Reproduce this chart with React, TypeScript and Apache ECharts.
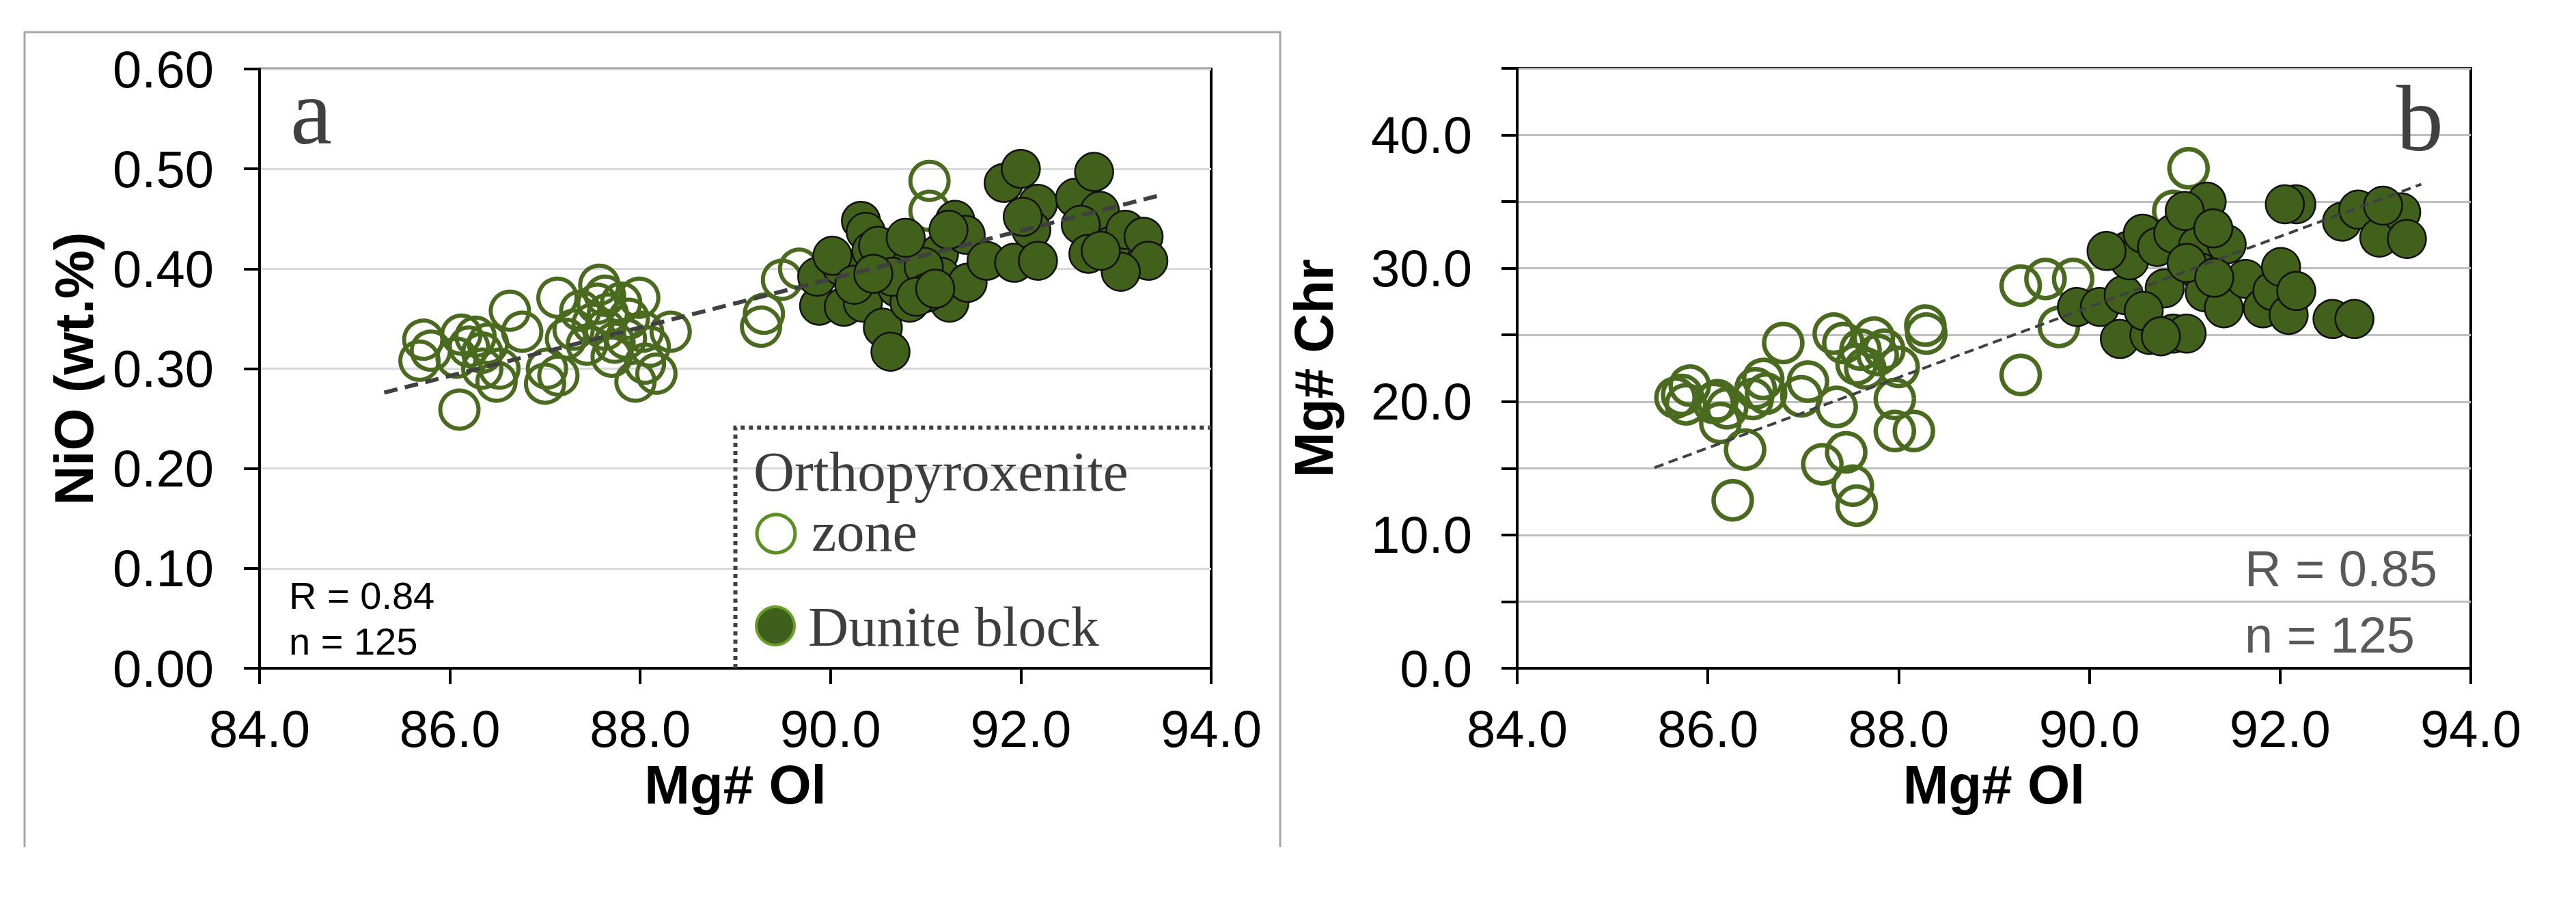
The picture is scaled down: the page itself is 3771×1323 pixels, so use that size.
import React, { useEffect, useRef } from "react";
import * as echarts from "echarts";

// ---------- data ----------
const xTicksMin = 84;
const xTicksMax = 94;

// Panel a: NiO (wt.%) vs Mg# Ol
const aOrthoX = [85.72, 85.68, 85.80, 86.12, 86.07, 86.27, 86.34, 86.49, 86.10, 86.63, 86.76, 87.13, 87.00, 87.14, 87.30, 87.57, 87.63, 87.44, 87.80, 87.99, 87.95, 88.17, 88.32, 88.03, 87.63, 87.73, 87.88, 87.37, 87.66, 89.27, 89.30, 89.49, 89.67, 91.04, 91.04, 86.40, 86.52, 87.22, 87.50, 87.70, 88.05, 87.85, 86.20, 87.55, 88.10, 86.34, 87.02];
const aOrthoY = [0.329, 0.308, 0.318, 0.334, 0.311, 0.332, 0.316, 0.287, 0.259, 0.358, 0.337, 0.371, 0.285, 0.293, 0.339, 0.384, 0.373, 0.324, 0.366, 0.371, 0.287, 0.295, 0.337, 0.337, 0.339, 0.326, 0.350, 0.358, 0.355, 0.342, 0.355, 0.389, 0.400, 0.488, 0.458, 0.325, 0.300, 0.330, 0.345, 0.312, 0.305, 0.330, 0.322, 0.365, 0.322, 0.300, 0.300];
const aDunX = [89.88, 89.86, 90.12, 90.14, 90.32, 90.37, 90.43, 90.34, 90.55, 90.63, 90.70, 90.72, 90.70, 90.83, 91.14, 91.16, 91.31, 91.42, 91.25, 91.44, 91.64, 91.93, 91.82, 92.00, 92.18, 92.11, 92.02, 92.18, 92.57, 92.77, 92.83, 92.63, 92.71, 92.95, 93.10, 93.29, 93.34, 93.05, 92.84, 90.50, 90.65, 90.98, 90.02, 90.25, 91.01, 91.24, 90.79, 90.90, 91.10, 90.45];
const aDunY = [0.363, 0.392, 0.402, 0.362, 0.448, 0.437, 0.418, 0.366, 0.341, 0.317, 0.418, 0.400, 0.381, 0.366, 0.415, 0.392, 0.449, 0.434, 0.366, 0.386, 0.408, 0.406, 0.486, 0.500, 0.465, 0.439, 0.452, 0.408, 0.471, 0.497, 0.458, 0.444, 0.415, 0.423, 0.439, 0.432, 0.408, 0.397, 0.418, 0.423, 0.392, 0.402, 0.413, 0.384, 0.376, 0.439, 0.431, 0.372, 0.380, 0.395];
const aTrendX = [85.31, 93.44];
const aTrendY = [0.276, 0.473];

// Panel b: Mg# Chr vs Mg# Ol
const bOrthoX = [85.73, 85.77, 85.66, 85.81, 86.10, 86.13, 86.06, 86.39, 86.26, 86.50, 86.47, 86.61, 86.58, 86.79, 86.98, 87.35, 87.32, 87.20, 87.45, 87.52, 87.56, 87.42, 87.60, 87.74, 87.78, 87.85, 87.56, 87.96, 87.96, 88.16, 88.00, 88.28, 88.29, 89.28, 89.54, 89.83, 89.68, 89.28, 91.04, 90.88, 87.05, 87.65, 86.20];
const bOrthoY = [20.5, 19.8, 20.3, 21.2, 20.1, 18.4, 19.9, 16.4, 12.6, 21.0, 20.2, 20.6, 21.7, 24.4, 20.4, 19.6, 25.1, 15.3, 16.2, 13.7, 12.2, 24.4, 23.9, 24.8, 23.5, 23.9, 22.8, 20.2, 17.8, 17.8, 22.6, 25.7, 25.1, 28.7, 29.2, 29.2, 25.6, 22.0, 37.5, 34.3, 21.5, 22.5, 19.5];
const bDunX = [89.87, 90.11, 90.36, 90.32, 90.63, 90.88, 91.02, 90.40, 90.42, 90.56, 90.71, 90.79, 90.88, 91.14, 91.16, 91.21, 91.23, 91.41, 91.44, 91.64, 91.82, 91.92, 92.01, 92.09, 92.17, 92.17, 92.05, 92.55, 92.78, 92.65, 92.82, 93.04, 93.27, 93.33, 93.08, 91.00, 90.18, 91.02, 91.31, 90.57, 90.75, 91.30];
const bDunY = [27.1, 27.1, 28.0, 24.7, 25.0, 25.1, 25.1, 31.3, 30.6, 32.6, 31.6, 28.5, 32.6, 31.7, 29.7, 28.2, 35.0, 27.0, 31.8, 29.2, 27.0, 28.3, 30.1, 26.5, 28.3, 34.8, 34.8, 26.2, 26.2, 33.5, 34.4, 32.3, 34.2, 32.2, 34.7, 34.3, 31.3, 30.4, 29.3, 26.8, 24.9, 33.0];
const bTrendX = [85.44, 93.48];
const bTrendY = [15.05, 36.3];

// ---------- layout ----------
const W = 3771;
const H = 1323;
const GA = { left: 380, top: 101, width: 1393, height: 877 };
const GB = { left: 2221, top: 100, width: 1396, height: 878 };

const OPEN_COLOR = "#4a6b1f";
const FILL_COLOR = "#41601b";
const SANS = "'Liberation Sans', Arial, sans-serif";
const SERIF = "'Liberation Serif', 'DejaVu Serif', serif";

const zip = (xs: number[], ys: number[]) => xs.map((x, i) => [x, ys[i]]);

const pxA = (v: number) => GA.left + ((v - xTicksMin) / (xTicksMax - xTicksMin)) * GA.width;
const pyA = (v: number) => GA.top + GA.height - (v / 0.6) * GA.height;

const txt = (text: string, x: number, y: number, size: number, family: string, fill: string) => ({
  type: "text",
  z: 10,
  style: {
    text,
    x,
    y,
    font: `${size}px ${family}`,
    fill,
    lineHeight: Math.round(size * 0.9),
    textVerticalAlign: "middle",
    verticalAlign: "middle",
  },
});

export default function App() {
  const ref = useRef<HTMLDivElement>(null);
  useEffect(() => {
    document.body.style.margin = "0";
    if (!ref.current) return;
    const chart = echarts.init(ref.current, undefined, { renderer: "svg" });

    const xAxisCommon = (gridIndex: number) => ({
      type: "value",
      gridIndex,
      min: 84,
      max: 94,
      interval: 2,
      name: "Mg# Ol",
      nameLocation: "middle",
      nameGap: 127,
      nameTextStyle: { fontFamily: SANS, fontWeight: "bold", fontSize: 80, color: "#000" },
      axisLine: { show: true, onZero: false, lineStyle: { color: "#000", width: 4 } },
      axisTick: { show: true, inside: false, length: 23, lineStyle: { color: "#000", width: 4 } },
      axisLabel: { fontFamily: SANS, fontSize: 76, color: "#000", margin: 50, formatter: (v: number) => v.toFixed(1) },
      splitLine: { show: false },
    });

    const legendX = pxA(89.0);
    const legendTop = pyA(0.241);

    const option: any = {
      animation: false,
      backgroundColor: "#fff",
      grid: [
        { ...GA, show: true, borderColor: "#000", borderWidth: 4, backgroundColor: "transparent" },
        { ...GB, show: true, borderColor: "#000", borderWidth: 4, backgroundColor: "transparent" },
      ],
      xAxis: [xAxisCommon(0), xAxisCommon(1)],
      yAxis: [
        {
          type: "value",
          gridIndex: 0,
          min: 0,
          max: 0.6,
          interval: 0.1,
          name: "NiO (wt.%)",
          nameLocation: "middle",
          nameGap: 232,
          nameTextStyle: { fontFamily: SANS, fontWeight: "bold", fontSize: 80, color: "#000" },
          axisLine: { show: true, onZero: false, lineStyle: { color: "#000", width: 4 } },
          axisTick: { show: true, inside: false, length: 23, lineStyle: { color: "#000", width: 4 } },
          axisLabel: { fontFamily: SANS, fontSize: 76, color: "#000", margin: 67, formatter: (v: number) => v.toFixed(2) },
          splitLine: { show: true, lineStyle: { color: "#d9d9d9", width: 3 } },
        },
        {
          type: "value",
          gridIndex: 1,
          min: 0,
          max: 45,
          interval: 5,
          name: "Mg# Chr",
          nameLocation: "middle",
          nameGap: 258,
          nameTextStyle: { fontFamily: SANS, fontWeight: "bold", fontSize: 80, color: "#000" },
          axisLine: { show: true, onZero: false, lineStyle: { color: "#000", width: 4 } },
          axisTick: { show: true, inside: false, length: 23, lineStyle: { color: "#000", width: 4 } },
          axisLabel: {
            fontFamily: SANS,
            fontSize: 76,
            color: "#000",
            margin: 66,
            formatter: (v: number) => (Math.round(v) % 10 === 0 ? v.toFixed(1) : ""),
          },
          splitLine: { show: true, lineStyle: { color: "#bfbfbf", width: 3 } },
        },
      ],
      series: [
        {
          name: "Orthopyroxenite zone",
          type: "scatter",
          xAxisIndex: 0,
          yAxisIndex: 0,
          data: zip(aOrthoX, aOrthoY),
          symbol: "circle",
          symbolSize: 56,
          itemStyle: { color: "rgba(0,0,0,0)", borderColor: OPEN_COLOR, borderWidth: 6, opacity: 1 },
          z: 2,
        },
        {
          name: "Dunite block",
          type: "scatter",
          xAxisIndex: 0,
          yAxisIndex: 0,
          data: zip(aDunX, aDunY),
          symbol: "circle",
          symbolSize: 56,
          itemStyle: { color: FILL_COLOR, borderColor: "#111", borderWidth: 2.5, opacity: 1 },
          z: 3,
        },
        {
          type: "line",
          xAxisIndex: 0,
          yAxisIndex: 0,
          data: zip(aTrendX, aTrendY),
          symbol: "none",
          lineStyle: { color: "#404040", width: 6, type: [20, 11] },
          z: 5,
        },
        {
          name: "Orthopyroxenite zone",
          type: "scatter",
          xAxisIndex: 1,
          yAxisIndex: 1,
          data: zip(bOrthoX, bOrthoY),
          symbol: "circle",
          symbolSize: 56,
          itemStyle: { color: "rgba(0,0,0,0)", borderColor: OPEN_COLOR, borderWidth: 6.5, opacity: 1 },
          z: 2,
        },
        {
          name: "Dunite block",
          type: "scatter",
          xAxisIndex: 1,
          yAxisIndex: 1,
          data: zip(bDunX, bDunY),
          symbol: "circle",
          symbolSize: 56,
          itemStyle: { color: FILL_COLOR, borderColor: "#111", borderWidth: 2.5, opacity: 1 },
          z: 3,
        },
        {
          type: "line",
          xAxisIndex: 1,
          yAxisIndex: 1,
          data: zip(bTrendX, bTrendY),
          symbol: "none",
          lineStyle: { color: "#404040", width: 4, type: [14, 8] },
          z: 5,
        },
      ],
      graphic: [
        // panel a frame
        {
          type: "polyline",
          shape: { points: [[36, 1240], [36, 47], [1874, 47], [1874, 1240]] },
          style: { stroke: "#a6a6a6", lineWidth: 3, fill: "none" },
          silent: true,
        },
        // legend box (dotted)
        {
          type: "polyline",
          shape: { points: [[legendX, GA.top + GA.height], [legendX, legendTop], [GA.left + GA.width, legendTop]] },
          style: { stroke: "#404040", lineWidth: 6, lineDash: [6, 6], fill: "none" },
          z: 10,
          silent: true,
        },
        txt("Orthopyroxenite", 1103, 690, 83, SERIF, "#3d3d3d"),
        {
          type: "circle",
          shape: { cx: 1136, cy: 781, r: 28 },
          style: { fill: "#fff", stroke: "#5a8f22", lineWidth: 5 },
          z: 10,
        },
        txt("zone", 1188, 778, 82, SERIF, "#3d3d3d"),
        {
          type: "circle",
          shape: { cx: 1135, cy: 916, r: 28 },
          style: { fill: "#3f5f1c", stroke: "#6a9f2a", lineWidth: 4 },
          z: 10,
        },
        txt("Dunite block", 1183, 917, 82, SERIF, "#3d3d3d"),
        // panel letters
        txt("a", 425, 163, 138, SERIF, "#404040"),
        txt("b", 3508, 173, 138, SERIF, "#404040"),
        // stats
        txt("R = 0.84", 423, 871, 56, SANS, "#000"),
        txt("n = 125", 423, 938, 56, SANS, "#000"),
        txt("R = 0.85", 3286, 832, 74, SANS, "#595959"),
        txt("n = 125", 3286, 929, 74, SANS, "#595959"),
      ],
    };

    chart.setOption(option);
    return () => chart.dispose();
  }, []);

  return <div ref={ref} style={{ width: W, height: H }} />;
}
